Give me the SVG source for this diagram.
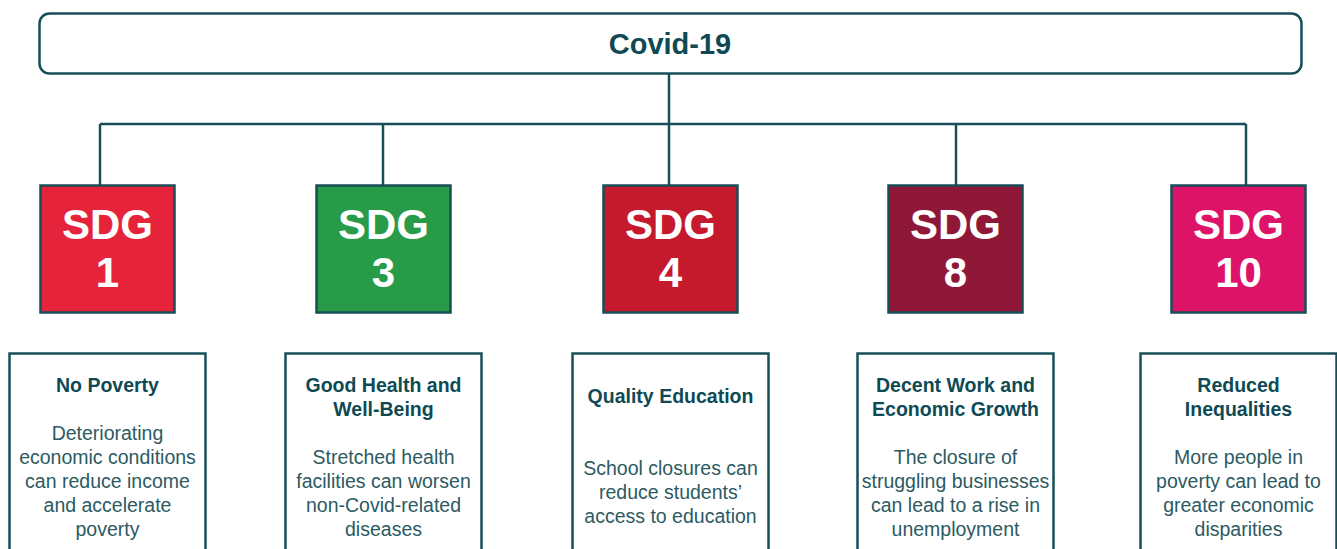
<svg xmlns="http://www.w3.org/2000/svg" width="1337" height="549" viewBox="0 0 1337 549">
  <style>
    .frame { fill: #ffffff; stroke: #174e58; stroke-width: 2.5; }
    .sdg { stroke: #174e58; stroke-width: 2.5; }
    .link { fill: none; stroke: #174e58; stroke-width: 2.5; }
    .head { font-family: "Liberation Sans", Arial, sans-serif; font-weight: bold; font-size: 29px; fill: #0f4a54; text-anchor: middle; }
    .num { font-family: "Liberation Sans", Arial, sans-serif; font-weight: bold; font-size: 42px; fill: #ffffff; text-anchor: middle; }
    .title { font-family: "Liberation Sans", Arial, sans-serif; font-weight: bold; font-size: 19.5px; fill: #0f4a54; text-anchor: middle; }
    .body { font-family: "Liberation Sans", Arial, sans-serif; font-size: 19.5px; fill: #2c5a62; text-anchor: middle; }
  </style>

  <!-- connectors -->
  <g id="connectors" class="link">
    <line x1="669" y1="74" x2="669" y2="124"/>
    <line x1="100" y1="124" x2="1246" y2="124"/>
    <line x1="100" y1="124" x2="100" y2="185"/>
    <line x1="383" y1="124" x2="383" y2="185"/>
    <line x1="669" y1="124" x2="669" y2="185"/>
    <line x1="956" y1="124" x2="956" y2="185"/>
    <line x1="1246" y1="124" x2="1246" y2="185"/>
  </g>

  <!-- root -->
  <g id="covid">
    <rect class="frame" x="39.5" y="13.5" width="1262" height="60" rx="10"/>
    <text class="head" x="670" y="54">Covid-19</text>
  </g>

  <!-- goal tiles -->
  <g id="sdg1">
    <rect class="sdg" x="40.5" y="185.5" width="134" height="127" fill="#e5243b"/>
    <text class="num" x="107.5" y="239">SDG</text>
    <text class="num" x="107.5" y="287">1</text>
  </g>
  <g id="sdg3">
    <rect class="sdg" x="316.5" y="185.5" width="134" height="127" fill="#279b48"/>
    <text class="num" x="383.5" y="239">SDG</text>
    <text class="num" x="383.5" y="287">3</text>
  </g>
  <g id="sdg4">
    <rect class="sdg" x="603.5" y="185.5" width="134" height="127" fill="#c5192d"/>
    <text class="num" x="670.5" y="239">SDG</text>
    <text class="num" x="670.5" y="287">4</text>
  </g>
  <g id="sdg8">
    <rect class="sdg" x="888.5" y="185.5" width="134" height="127" fill="#8f1838"/>
    <text class="num" x="955.5" y="239">SDG</text>
    <text class="num" x="955.5" y="287">8</text>
  </g>
  <g id="sdg10">
    <rect class="sdg" x="1171.5" y="185.5" width="134" height="127" fill="#dd1367"/>
    <text class="num" x="1238.5" y="239">SDG</text>
    <text class="num" x="1238.5" y="287">10</text>
  </g>

  <!-- descriptions -->
  <g id="desc1">
    <rect class="frame" x="9.5" y="353.5" width="196" height="210"/>
    <text class="title" x="107.5" y="392">No Poverty</text>
    <text class="body" x="107.5" y="440">Deteriorating</text>
    <text class="body" x="107.5" y="464">economic conditions</text>
    <text class="body" x="107.5" y="488">can reduce income</text>
    <text class="body" x="107.5" y="512">and accelerate</text>
    <text class="body" x="107.5" y="536">poverty</text>
  </g>
  <g id="desc3">
    <rect class="frame" x="285.5" y="353.5" width="196" height="210"/>
    <text class="title" x="383.5" y="392">Good Health and</text>
    <text class="title" x="383.5" y="416">Well-Being</text>
    <text class="body" x="383.5" y="464">Stretched  health</text>
    <text class="body" x="383.5" y="488">facilities can worsen</text>
    <text class="body" x="383.5" y="512">non-Covid-related</text>
    <text class="body" x="383.5" y="536">diseases</text>
  </g>
  <g id="desc4">
    <rect class="frame" x="572.5" y="353.5" width="196" height="210"/>
    <text class="title" x="670.5" y="403">Quality Education</text>
    <text class="body" x="670.5" y="475">School closures can</text>
    <text class="body" x="670.5" y="499">reduce students’</text>
    <text class="body" x="670.5" y="523">access to education</text>
  </g>
  <g id="desc8">
    <rect class="frame" x="857.5" y="353.5" width="196" height="210"/>
    <text class="title" x="955.5" y="392">Decent Work and</text>
    <text class="title" x="955.5" y="416">Economic  Growth</text>
    <text class="body" x="955.5" y="464">The  closure of</text>
    <text class="body" x="955.5" y="488">struggling  businesses</text>
    <text class="body" x="955.5" y="512">can lead to a rise in</text>
    <text class="body" x="955.5" y="536">unemployment</text>
  </g>
  <g id="desc10">
    <rect class="frame" x="1140.5" y="353.5" width="196" height="210"/>
    <text class="title" x="1238.5" y="392">Reduced</text>
    <text class="title" x="1238.5" y="416">Inequalities</text>
    <text class="body" x="1238.5" y="464">More people  in</text>
    <text class="body" x="1238.5" y="488">poverty  can lead to</text>
    <text class="body" x="1238.5" y="512">greater economic</text>
    <text class="body" x="1238.5" y="536">disparities</text>
  </g>
</svg>
